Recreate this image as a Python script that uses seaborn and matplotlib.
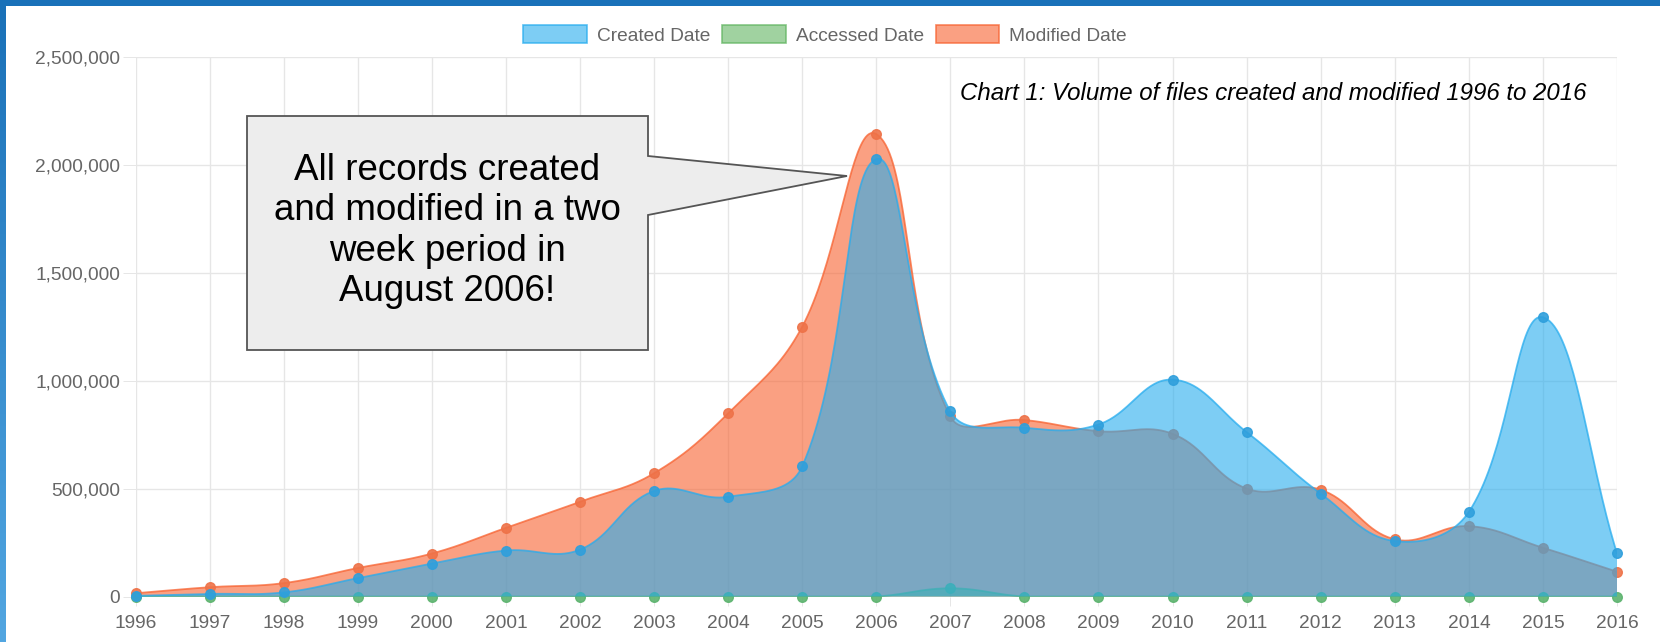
import numpy as np
import pandas as pd
import matplotlib
matplotlib.use("Agg")
import matplotlib.pyplot as plt
from matplotlib.patches import Patch, Polygon, Rectangle
from matplotlib.ticker import FuncFormatter, MultipleLocator
import seaborn as sns

# ---- data -------------------------------------------------------------
years = list(range(1996, 2017))
created = [3000, 12000, 19000, 85000, 152000, 213000, 217000, 489000, 462000,
           603000, 2027000, 858000, 782000, 797000, 1005000, 762000, 477000,
           257000, 392000, 1294000, 200000]
accessed = [0, 0, 0, 0, 0, 0, 0, 0, 0, 0, 0, 38000, 0, 0, 0, 0, 0, 0, 0, 0, 0]
modified = [15000, 43000, 62000, 132000, 199000, 318000, 439000, 571000,
            849000, 1250000, 2143000, 835000, 818000, 766000, 754000, 500000,
            495000, 265000, 326000, 226000, 115000]
series_names = ["Created Date", "Accessed Date", "Modified Date"]
caption = "Chart 1: Volume of files created and modified 1996 to 2016"
callout = "All records created\nand modified in a two\nweek period in\nAugust 2006!"

# ---- style ------------------------------------------------------------
sns.set_style("white")
plt.rcParams["font.family"] = ["Liberation Sans", "DejaVu Sans"]

W_PX, H_PX, DPI = 1660, 642, 100
fig = plt.figure(figsize=(W_PX / DPI, H_PX / DPI), dpi=DPI)
fig.patch.set_facecolor("white")

ax_l, ax_r, ax_t, ax_b = 135.5, 1617.0, 57.0, 596.5
ax = fig.add_axes([ax_l / W_PX, 1 - ax_b / H_PX,
                   (ax_r - ax_l) / W_PX, (ax_b - ax_t) / H_PX])
ax.set_xlim(1996, 2016)
ax.set_ylim(0, 2500000)
for s in ax.spines.values():
    s.set_visible(False)

# ---- smooth curve through points (cardinal-like bezier, tension 0.4) ---
xs_px = (ax_r - ax_l) / 20.0
ys_px = (ax_b - ax_t) / 2500000.0
top_px = 2500000 * ys_px


def smooth(xv, yv, tension=0.4, steps=40):
    px = (np.asarray(xv, float) - 1996) * xs_px
    py = np.asarray(yv, float) * ys_px
    n = len(px)
    prev_cp, next_cp = [], []
    for i in range(n):
        a = max(i - 1, 0)
        b = min(i + 1, n - 1)
        d01 = np.hypot(px[i] - px[a], py[i] - py[a])
        d12 = np.hypot(px[b] - px[i], py[b] - py[i])
        tot = d01 + d12
        s01 = d01 / tot if tot else 0.0
        s12 = d12 / tot if tot else 0.0
        fa, fb = tension * s01, tension * s12
        pc = [px[i] - fa * (px[b] - px[a]), py[i] - fa * (py[b] - py[a])]
        nc = [px[i] + fb * (px[b] - px[a]), py[i] + fb * (py[b] - py[a])]
        pc[1] = min(max(pc[1], 0), top_px)
        nc[1] = min(max(nc[1], 0), top_px)
        prev_cp.append(pc)
        next_cp.append(nc)
    cx, cy = [px[0]], [py[0]]
    t = np.linspace(0, 1, steps)[1:]
    for i in range(n - 1):
        p0 = np.array([px[i], py[i]])
        p1 = np.array(next_cp[i])
        p2 = np.array(prev_cp[i + 1])
        p3 = np.array([px[i + 1], py[i + 1]])
        pts = ((1 - t) ** 3)[:, None] * p0 + (3 * (1 - t) ** 2 * t)[:, None] * p1 \
            + (3 * (1 - t) * t ** 2)[:, None] * p2 + (t ** 3)[:, None] * p3
        cx.extend(pts[:, 0])
        cy.extend(pts[:, 1])
    return np.array(cx) / xs_px + 1996, np.array(cy) / ys_px


blue = (38 / 255, 172 / 255, 238 / 255)
green = (97 / 255, 180 / 255, 97 / 255)
orange = (247 / 255, 97 / 255, 47 / 255)
fill_alpha = 0.6

layers = [
    # name, values, base colour, dot colour, z
    ("Modified Date", modified, orange, "#ee7248", 2),
    ("Accessed Date", accessed, green, "#5cb36e", 3),
    ("Created Date", created, blue, "#2f9fdc", 4),
]

for name, vals, col, dot, z in layers:
    cx, cy = smooth(years, vals)
    poly_x = np.concatenate([cx, [cx[-1], cx[0]]])
    poly_y = np.concatenate([cy, [0, 0]])
    ax.fill(poly_x, poly_y, color=(*col, fill_alpha), lw=0, zorder=z)
    curve = pd.DataFrame({"x": cx, "y": cy})
    sns.lineplot(data=curve, x="x", y="y", sort=False, estimator=None,
                 color=col, alpha=0.75, lw=1.3, ax=ax, zorder=z + 0.1)
    pts = pd.DataFrame({"x": years, "y": vals})
    sns.scatterplot(data=pts, x="x", y="y", color=dot, s=48, edgecolor=dot,
                    linewidth=1, alpha=0.9, ax=ax, zorder=z + 0.2, clip_on=False)

ax.set_xlabel("")
ax.set_ylabel("")
ax.set_xlim(1996, 2016)
ax.set_ylim(0, 2500000)
ax.set_xticks(years)
ax.set_xticklabels([str(y) for y in years])
ax.yaxis.set_major_locator(MultipleLocator(500000))
ax.yaxis.set_major_formatter(FuncFormatter(lambda v, p: f"{v:,.0f}"))

grid_c = "#e6e6e6"
ax.set_axisbelow(True)
ax.grid(True, which="major", axis="both", color=grid_c, linewidth=1.0,
        linestyle="-", alpha=1.0)
ax.tick_params(axis="y", length=9.4, width=0.72, color=grid_c, pad=1.8,
               labelsize=13.8, labelcolor="#666666", left=True)
ax.tick_params(axis="x", length=6.5, width=0.72, color=grid_c, pad=7.0,
               labelsize=13.8, labelcolor="#666666", bottom=True)
ax.axhline(0, color="#c8c8c8", lw=1.0, zorder=0.6)

# ---- legend -------------------------------------------------------------
handles = [Patch(facecolor=(*blue, fill_alpha), edgecolor=(*blue, 0.75), lw=1.2),
           Patch(facecolor=(*green, fill_alpha), edgecolor=(*green, 0.75), lw=1.2),
           Patch(facecolor=(*orange, fill_alpha), edgecolor=(*orange, 0.75), lw=1.2)]
fig.legend(handles, series_names, loc="center", ncol=3,
           bbox_to_anchor=(825 / W_PX, 1 - 35 / H_PX), frameon=False,
           fontsize=13.8, labelcolor="#666666", handlelength=3.33,
           handleheight=1.04, handletextpad=0.5, columnspacing=0.62,
           borderpad=0, borderaxespad=0)

# ---- caption ------------------------------------------------------------
fig.text(960 / W_PX, 1 - 93 / H_PX, caption, ha="left", va="center",
         fontsize=17.3, style="italic", color="black")


# ---- callout box ----------------------------------------------------------
def fpt(x, y):
    return (x / W_PX, 1 - y / H_PX)


box = [fpt(247, 116), fpt(648, 116), fpt(648, 156), fpt(847, 176),
       fpt(648, 215), fpt(648, 350), fpt(247, 350)]
fig.add_artist(Polygon(box, closed=True, facecolor="#ededed",
                       edgecolor="#555555", lw=1.3, transform=fig.transFigure,
                       zorder=10))
fig.text(447.5 / W_PX, 1 - 231 / H_PX, callout, ha="center", va="center",
         multialignment="center", fontsize=26.5, linespacing=1.2,
         color="black", zorder=11)

# ---- frame strips ----------------------------------------------------------
fig.add_artist(Rectangle((0, 1 - 6 / H_PX), 1, 6 / H_PX, transform=fig.transFigure,
                         facecolor="#1971b9", lw=0, zorder=20))
grad_ax = fig.add_axes([0, 0, 5 / W_PX, 1 - 6 / H_PX])
grad = np.linspace(0, 1, 256)[:, None]
top_c = np.array([26, 113, 184]) / 255
bot_c = np.array([82, 166, 225]) / 255
img = (top_c[None, None, :] * (1 - grad[:, :, None]) + bot_c[None, None, :] * grad[:, :, None])
grad_ax.imshow(img, aspect="auto", extent=[0, 1, 0, 1])
grad_ax.set_axis_off()

fig.savefig("out.png", dpi=DPI, facecolor="white")
